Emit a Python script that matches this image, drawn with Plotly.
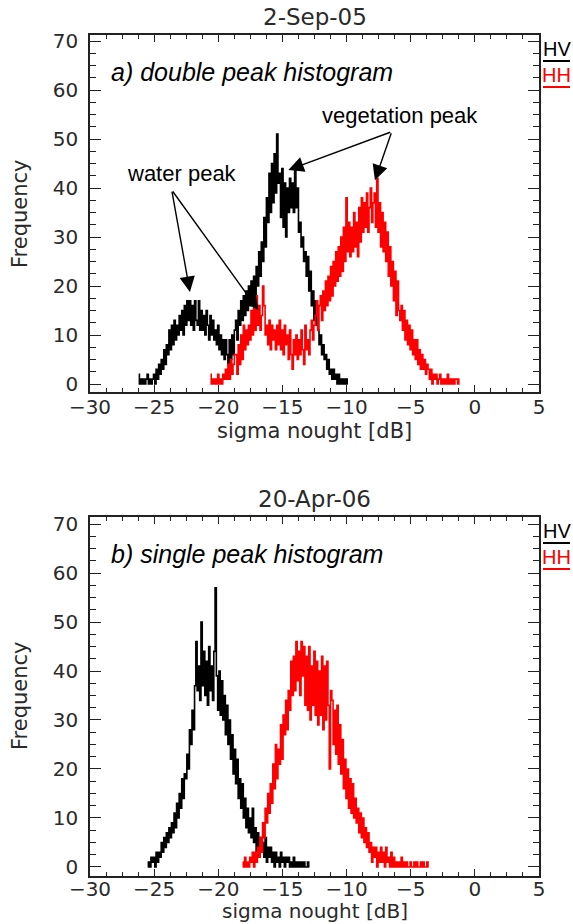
import plotly.graph_objects as go

# ---------------- data (histogram counts, 0.1 dB bins) ----------------
BIN = 0.1

top_hv_start = -26.2
top_hv = [
    2, 0, 1, 0, 1, 0, 1, 2, 0, 1,
    0, 1, 2, 0, 3, 1, 4, 2, 5, 3,
    7, 4, 8, 6, 11, 7, 12, 8, 13, 9,
    12, 10, 14, 11, 15, 10, 16, 12, 17, 13,
    17, 12, 16, 11, 17, 13, 12, 17, 11, 15,
    11, 14, 10, 15, 12, 9, 14, 10, 13, 9,
    11, 8, 12, 7, 10, 6, 9, 5, 9, 6,
    4, 9, 5, 10, 6, 11, 13, 9, 15, 12,
    17, 13, 18, 14, 19, 15, 20, 16, 21, 17,
    22, 18, 24, 20, 27, 22, 29, 25, 34, 28,
    38, 33, 43, 35, 45, 37, 47, 39, 51, 41,
    43, 34, 44, 32, 41, 30, 40, 35, 42, 36,
    41, 35, 44, 36, 40, 31, 33, 28, 30, 25,
    27, 22, 26, 19, 23, 16, 19, 13, 17, 12,
    11, 8, 10, 6, 8, 5, 6, 3, 5, 2,
    3, 1, 3, 1, 2, 0, 2, 0, 1, 0,
    1, 0, 1, 0,
]

top_hh_start = -20.6
top_hh = [
    2, 0, 1, 0, 1, 0, 2, 0, 1, 0,
    2, 1, 3, 1, 4, 1, 5, 2, 4, 6,
    6, 2, 8, 4, 10, 5, 12, 7, 11, 8,
    12, 9, 15, 10, 17, 11, 18, 12, 16, 11,
    14, 20, 16, 10, 12, 8, 13, 7, 12, 9,
    11, 7, 12, 8, 13, 7, 11, 6, 12, 8,
    10, 5, 11, 6, 3, 9, 6, 10, 5, 9,
    6, 11, 7, 4, 12, 7, 9, 6, 11, 13,
    9, 12, 14, 17, 11, 16, 18, 13, 19, 15,
    21, 16, 22, 17, 24, 18, 25, 20, 27, 21,
    28, 22, 30, 23, 32, 25, 38, 27, 33, 26,
    32, 27, 35, 28, 33, 26, 36, 29, 38, 31,
    37, 32, 39, 31, 36, 40, 33, 37, 39, 32,
    42, 31, 37, 28, 35, 27, 33, 25, 31, 22,
    28, 20, 25, 17, 23, 14, 21, 15, 13, 16,
    11, 15, 9, 13, 8, 12, 7, 11, 6, 9,
    5, 9, 4, 7, 3, 6, 3, 5, 2, 4,
    3, 1, 3, 0, 2, 1, 2, 0, 1, 2,
    0, 1, 0, 1, 0, 2, 0, 1, 0, 1,
    0, 1, 1, 0, 1,
]

bot_hv_start = -25.5
bot_hv = [
    0, 1, 0, 2, 1, 2, 0, 3, 1, 3,
    2, 5, 3, 6, 4, 7, 5, 8, 6, 9,
    7, 11, 8, 13, 10, 15, 12, 18, 14, 19,
    18, 23, 20, 28, 25, 32, 28, 37, 46, 36,
    41, 34, 50, 37, 44, 35, 42, 33, 45, 36,
    41, 34, 44, 57, 39, 32, 40, 31, 38, 30,
    35, 27, 33, 25, 30, 22, 27, 19, 24, 17,
    22, 14, 18, 12, 17, 10, 14, 8, 12, 7,
    10, 6, 12, 5, 8, 3, 7, 2, 6, 3,
    5, 2, 6, 1, 4, 2, 4, 1, 3, 0,
    3, 1, 2, 0, 3, 1, 2, 0, 2, 1,
    2, 0, 1, 0, 2, 0, 1, 0, 1, 0,
    1, 0, 1, 0, 0, 1, 0,
]

bot_hh_start = -18.1
bot_hh = [
    1, 0, 2, 0, 1, 0, 2, 1, 3, 0,
    3, 1, 4, 2, 6, 3, 9, 6, 12, 9,
    15, 11, 17, 13, 21, 16, 25, 18, 24, 21,
    29, 22, 31, 27, 34, 28, 36, 32, 42, 35,
    43, 36, 46, 38, 44, 35, 46, 39, 45, 33,
    43, 32, 45, 30, 41, 33, 44, 31, 42, 29,
    40, 31, 43, 28, 41, 30, 42, 33, 20, 36,
    34, 25, 32, 23, 33, 21, 29, 19, 26, 16,
    22, 14, 20, 12, 18, 11, 17, 10, 14, 9,
    12, 7, 11, 6, 10, 5, 8, 4, 7, 3,
    5, 1, 4, 2, 4, 0, 3, 1, 4, 1,
    3, 0, 4, 1, 2, 0, 3, 0, 2, 0,
    1, 0, 1, 0, 2, 0, 1, 0, 1, 0,
    0, 1, 0, 0, 1, 0, 1, 0, 0, 1,
    0, 1, 0, 0, 1, 0,
]

x_ticks = [-30, -25, -20, -15, -10, -5, 0, 5]
y_ticks = [0, 10, 20, 30, 40, 50, 60, 70]
titles = ["2-Sep-05", "20-Apr-06"]
panel_labels = ["a) double peak histogram", "b) single peak histogram"]
series_names = ["HV", "HH"]
series_colors = ["#000000", "#ff0000"]


def bins(start, vals):
    return [round(start + BIN * i, 2) for i in range(len(vals))]


W, H = 573, 924


def px(x):
    return x / W


def py(y):
    return 1 - y / H


fig = go.Figure()

panels = [
    (top_hv_start, top_hv, top_hh_start, top_hh, "x", "y"),
    (bot_hv_start, bot_hv, bot_hh_start, bot_hh, "x2", "y2"),
]
for hv_s, hv, hh_s, hh, xa, ya in panels:
    fig.add_trace(go.Scatter(x=bins(hv_s, hv), y=hv, mode="lines", name="HV",
                             line=dict(color=series_colors[0], width=1.6, shape="hvh"),
                             xaxis=xa, yaxis=ya, showlegend=False))
    fig.add_trace(go.Scatter(x=bins(hh_s, hh), y=hh, mode="lines", name="HH",
                             line=dict(color=series_colors[1], width=1.6, shape="hvh"),
                             xaxis=xa, yaxis=ya, showlegend=False))

AX = "#222222"
tickfont = dict(family="DejaVu Sans", size=20, color="#2a2a2a")

xdom = [px(90), px(539)]
ydoms = [[py(392), py(35)], [py(876), py(517)]]
yranges = [[-1.63, 71.24], [-1.84, 71.43]]


def xaxis_cfg(anchor, standoff):
    return dict(domain=xdom, anchor=anchor, range=[-30, 5], showline=True, linecolor=AX,
                linewidth=1.5, mirror="ticks", ticks="inside", ticklen=7, tickwidth=1.3,
                tickcolor=AX, tickvals=x_ticks, showgrid=False, zeroline=False,
                tickfont=tickfont, ticklabelstandoff=standoff, automargin=False,
                minor=dict(ticks="inside", ticklen=4, tickwidth=1.3, tickcolor=AX,
                           dtick=1.25, tick0=-30, showgrid=False))


def yaxis_cfg(anchor, dom, rng):
    return dict(domain=dom, anchor=anchor, range=rng, showline=True, linecolor=AX,
                linewidth=1.5, mirror="ticks", ticks="inside", ticklen=11, tickwidth=1.3,
                tickcolor=AX, tickvals=y_ticks, showgrid=False, zeroline=False,
                tickfont=tickfont, ticklabelstandoff=6, automargin=False,
                minor=dict(ticks="inside", ticklen=6, tickwidth=1.3, tickcolor=AX,
                           dtick=2.5, tick0=0, showgrid=False))


fig.update_layout(
    width=W, height=H, margin=dict(l=0, r=0, t=0, b=0, autoexpand=False),
    paper_bgcolor="white", plot_bgcolor="white", showlegend=False,
    xaxis=xaxis_cfg("y", -4), yaxis=yaxis_cfg("x", ydoms[0], yranges[0]),
    xaxis2=xaxis_cfg("y2", -6), yaxis2=yaxis_cfg("x2", ydoms[1], yranges[1]),
)

ann = []
shapes = []
for i, off in enumerate([0, 482]):
    # plot title
    ann.append(dict(text=titles[i], x=px(314.5), y=py(17 + off), xref="paper", yref="paper",
                    showarrow=False, font=dict(family="DejaVu Sans", size=23, color="#2a2a2a"),
                    xanchor="center", yanchor="middle"))
    # axis titles
    xt_y = 431 if i == 0 else 911
    xt_size = 21 if i == 0 else 20
    ann.append(dict(text="sigma nought [dB]", x=px(314.5), y=py(xt_y), xref="paper",
                    yref="paper", showarrow=False,
                    font=dict(family="DejaVu Sans", size=xt_size, color="#2a2a2a"),
                    xanchor="center", yanchor="middle"))
    ann.append(dict(text="Frequency", x=px(20), y=py(214 + off), xref="paper", yref="paper",
                    showarrow=False, font=dict(family="DejaVu Sans", size=21,
                                               color="#2a2a2a"),
                    textangle=-90, xanchor="center", yanchor="middle"))
    # panel label
    ann.append(dict(text=panel_labels[i], x=px(109), y=py(72 + off), xref="paper",
                    yref="paper", showarrow=False,
                    font=dict(family="Liberation Sans", size=25, color="#000000",
                              style="italic"),
                    xanchor="left", yanchor="middle"))
    # legend (text with line underneath)
    for j, (nm, col) in enumerate(zip(series_names, series_colors)):
        ann.append(dict(text=nm, x=px(556.5), y=py(49 + 26 * j + off), xref="paper",
                        yref="paper", showarrow=False,
                        font=dict(family="Liberation Sans", size=20, color=col),
                        xanchor="center", yanchor="middle"))
        shapes.append(dict(type="line", xref="paper", yref="paper",
                           x0=px(543), x1=px(570), y0=py(61 + 26 * j + off),
                           y1=py(61 + 26 * j + off), line=dict(color=col, width=2)))

# peak annotations (top panel)
lblfont = dict(family="Liberation Sans", size=22, color="#000000")
ann.append(dict(text="water peak", x=-22.79, y=43.0, xref="x", yref="y", showarrow=False,
                font=lblfont, xanchor="center", yanchor="middle"))
ann.append(dict(text="vegetation peak", x=-5.80, y=54.9, xref="x", yref="y",
                showarrow=False, font=lblfont, xanchor="center", yanchor="middle"))
arrows = [
    (-22.21, 18.8, -23.63, 39.6),
    (-16.88, 15.1, -23.63, 39.6),
    (-14.54, 43.7, -6.48, 51.5),
    (-7.79, 41.6, -6.48, 51.5),
]
for tx, ty, sx, sy in arrows:
    ann.append(dict(text="", x=tx, y=ty, ax=sx, ay=sy, xref="x", yref="y", axref="x",
                    ayref="y", showarrow=True, arrowhead=2, arrowsize=2.2, arrowwidth=1.4,
                    arrowcolor="#000000"))

fig.update_layout(annotations=ann, shapes=shapes)

fig.write_html("out.html")
